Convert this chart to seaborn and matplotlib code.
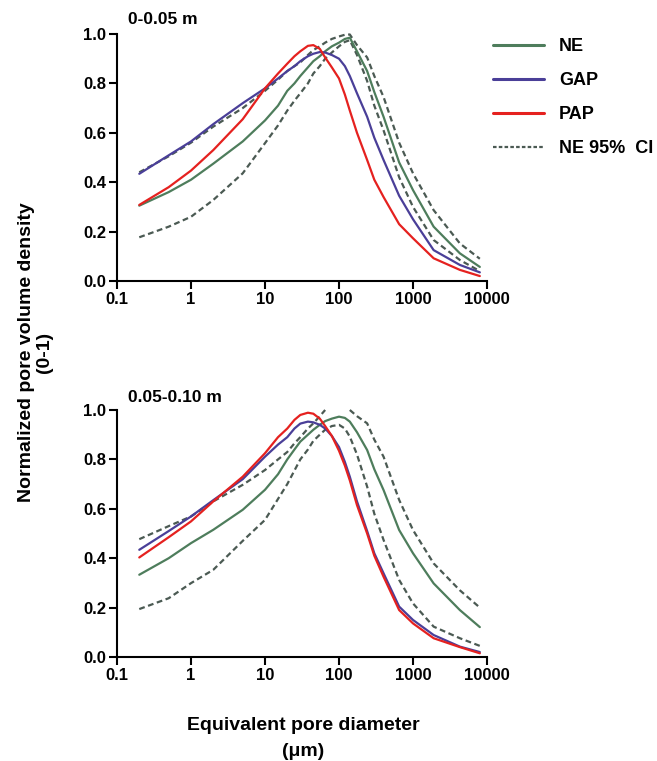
import numpy as np
import pandas as pd
import matplotlib
matplotlib.use("Agg")
import matplotlib.pyplot as plt
from matplotlib.lines import Line2D
import seaborn as sns

# Equivalent pore diameter (um) at which the curves are sampled
diameter = [0.2, 0.5, 1, 2, 5, 10, 15, 20, 25, 30, 38, 45, 55, 65, 80, 100, 120, 140, 175,
            240, 300, 400, 650, 1000, 1900, 4300, 8000]

# 0-0.05 m depth
top_ne = [0.305, 0.36, 0.41, 0.475, 0.565, 0.65, 0.71, 0.77, 0.80, 0.83, 0.865, 0.89, 0.91, 0.93,
          0.95, 0.965, 0.98, 0.985, 0.93, 0.85, 0.765, 0.665, 0.48, 0.368, 0.22, 0.112, 0.057]
top_gap = [0.434, 0.509, 0.565, 0.635, 0.72, 0.78, 0.82, 0.85, 0.87, 0.89, 0.91, 0.92, 0.927, 0.925,
           0.915, 0.90, 0.87, 0.83, 0.76, 0.665, 0.58, 0.49, 0.345, 0.25, 0.125, 0.065, 0.035]
top_pap = [0.308, 0.38, 0.447, 0.53, 0.655, 0.78, 0.84, 0.88, 0.91, 0.93, 0.952, 0.955, 0.94, 0.905,
           0.865, 0.82, 0.755, 0.69, 0.60, 0.49, 0.41, 0.34, 0.23, 0.173, 0.092, 0.045, 0.02]
top_ci_hi = [0.44, 0.505, 0.56, 0.625, 0.70, 0.77, 0.815, 0.85, 0.87, 0.885, 0.915, 0.935, 0.95, 0.965,
             0.98, 0.99, 0.997, 0.998, 0.955, 0.905, 0.83, 0.745, 0.56, 0.436, 0.287, 0.152, 0.09]
top_ci_lo = [0.177, 0.22, 0.26, 0.328, 0.436, 0.558, 0.63, 0.69, 0.73, 0.76, 0.80, 0.84, 0.87, 0.90,
             0.925, 0.95, 0.968, 0.975, 0.915, 0.81, 0.71, 0.61, 0.42, 0.30, 0.166, 0.085, 0.04]

# 0.05-0.10 m depth (upper CI is not drawn where it exceeds 1)
bot_ne = [0.333, 0.40, 0.461, 0.515, 0.596, 0.677, 0.74, 0.80, 0.84, 0.872, 0.90, 0.92, 0.94, 0.955,
          0.965, 0.973, 0.968, 0.953, 0.91, 0.838, 0.76, 0.676, 0.514, 0.42, 0.298, 0.19, 0.121]
bot_gap = [0.434, 0.51, 0.569, 0.635, 0.72, 0.811, 0.86, 0.89, 0.925, 0.945, 0.953, 0.95, 0.94, 0.925,
           0.895, 0.85, 0.79, 0.73, 0.63, 0.51, 0.42, 0.339, 0.204, 0.15, 0.089, 0.042, 0.02]
bot_pap = [0.403, 0.485, 0.549, 0.63, 0.73, 0.825, 0.89, 0.925, 0.96, 0.98, 0.989, 0.985, 0.965, 0.935,
           0.895, 0.835, 0.775, 0.715, 0.615, 0.50, 0.41, 0.325, 0.19, 0.136, 0.076, 0.04, 0.015]
bot_ci_hi = [0.477, 0.53, 0.569, 0.63, 0.697, 0.757, 0.80, 0.83, 0.865, 0.89, 0.925, 0.946, 0.975, 1.0,
             np.nan, np.nan, np.nan, 1.0, 0.975, 0.946, 0.88, 0.811, 0.636, 0.514, 0.379, 0.27, 0.2]
bot_ci_lo = [0.194, 0.238, 0.299, 0.353, 0.47, 0.555, 0.64, 0.70, 0.755, 0.80, 0.84, 0.875, 0.90, 0.92,
             0.935, 0.94, 0.925, 0.892, 0.82, 0.69, 0.58, 0.474, 0.312, 0.217, 0.123, 0.076, 0.045]

panel_titles = ["0-0.05 m", "0.05-0.10 m"]
series_names = ["NE", "GAP", "PAP"]
ci_name = "NE 95%  CI"
x_ticks = [0.1, 1, 10, 100, 1000, 10000]
x_tick_labels = ["0.1", "1", "10", "100", "1000", "10000"]
y_ticks = [0.0, 0.2, 0.4, 0.6, 0.8, 1.0]

colors = {"NE": "#4e7d5c", "GAP": "#4a3f98", "PAP": "#e5211f"}
ci_color = "#4b5a53"

sns.set_style("ticks")
plt.rcParams["font.family"] = ["Liberation Sans", "DejaVu Sans"]
plt.rcParams["font.weight"] = "bold"
plt.rcParams["text.color"] = "black"
plt.rcParams["xtick.color"] = "black"
plt.rcParams["ytick.color"] = "black"

fig = plt.figure(figsize=(6.57, 7.61), dpi=100)
W, H = 657, 761


def axes_at(left, top, right, bottom):
    return fig.add_axes([left / W, 1 - bottom / H, (right - left) / W, (bottom - top) / H])


ax_top = axes_at(117, 34, 487, 281)
ax_bot = axes_at(117, 410, 487, 657)

panels = [
    (ax_top, top_ne, top_gap, top_pap, top_ci_hi, top_ci_lo),
    (ax_bot, bot_ne, bot_gap, bot_pap, bot_ci_hi, bot_ci_lo),
]


def dashed_runs(x, y):
    """Split a series into its contiguous non-missing runs."""
    df = pd.DataFrame({"d": x, "v": y})
    run = df["v"].isna().cumsum()
    df = df.assign(run=run).dropna()
    return [g for _, g in df.groupby("run")]


for (ax, ne, gap, pap, hi, lo), title in zip(panels, panel_titles):
    for bound in (hi, lo):
        for seg in dashed_runs(diameter, bound):
            sns.lineplot(data=seg, x="d", y="v", ax=ax, color=ci_color, lw=1.6,
                         dashes=False, linestyle=(0, (2.6, 1.6)), clip_on=False)
    for name, vals in zip(series_names, (ne, gap, pap)):
        df = pd.DataFrame({"d": diameter, "v": vals})
        sns.lineplot(data=df, x="d", y="v", ax=ax, color=colors[name], lw=1.6, clip_on=False)

    ax.set_xscale("log")
    ax.set_xlim(0.1, 10000)
    ax.set_ylim(0, 1.0)
    ax.set_xticks(x_ticks)
    ax.set_xticklabels(x_tick_labels)
    ax.xaxis.set_minor_locator(matplotlib.ticker.NullLocator())
    ax.set_yticks(y_ticks)
    ax.set_yticklabels([f"{t:.1f}" for t in y_ticks])
    ax.set_xlabel("")
    ax.set_ylabel("")
    sns.despine(ax=ax)
    for sp in ("left", "bottom"):
        ax.spines[sp].set_linewidth(1.5)
        ax.spines[sp].set_color("black")
    ax.tick_params(axis="both", width=1.5, length=6, color="black", labelcolor="black",
                   labelsize=12, pad=2, direction="out")
    for lab in ax.get_xticklabels() + ax.get_yticklabels():
        lab.set_fontweight("bold")
    ax.set_facecolor("white")

fig.text(128 / W, 1 - 20 / H, panel_titles[0], fontsize=12.5, fontweight="bold", va="center", ha="left")
fig.text(128 / W, 1 - 397 / H, panel_titles[1], fontsize=12.5, fontweight="bold", va="center", ha="left")

fig.text(27 / W, 1 - 352 / H, "Normalized pore volume density", rotation=90, fontsize=14,
         fontweight="bold", ha="center", va="center")
fig.text(44 / W, 1 - 352 / H, "(0-1)", rotation=90, fontsize=14,
         fontweight="bold", ha="center", va="center")
fig.text(303 / W, 1 - 725 / H, "Equivalent pore diameter", fontsize=14,
         fontweight="bold", ha="center", va="center")
fig.text(303 / W, 1 - 752 / H, "(\u03bcm)", fontsize=14,
         fontweight="bold", ha="center", va="center")

handles = [Line2D([], [], color=colors[n], lw=2.2) for n in series_names]
handles.append(Line2D([], [], color=ci_color, lw=1.6, linestyle=(0, (1.6, 1.0))))
fig.legend(handles, series_names + [ci_name], loc="upper left",
           bbox_to_anchor=(493 / W, 1 - 38 / H), frameon=False, borderpad=0,
           borderaxespad=0, prop={"size": 13, "weight": "bold"}, handlelength=2.8,
           handletextpad=0.85, labelspacing=0.95)

fig.savefig("out.png", dpi=100, facecolor="white")
